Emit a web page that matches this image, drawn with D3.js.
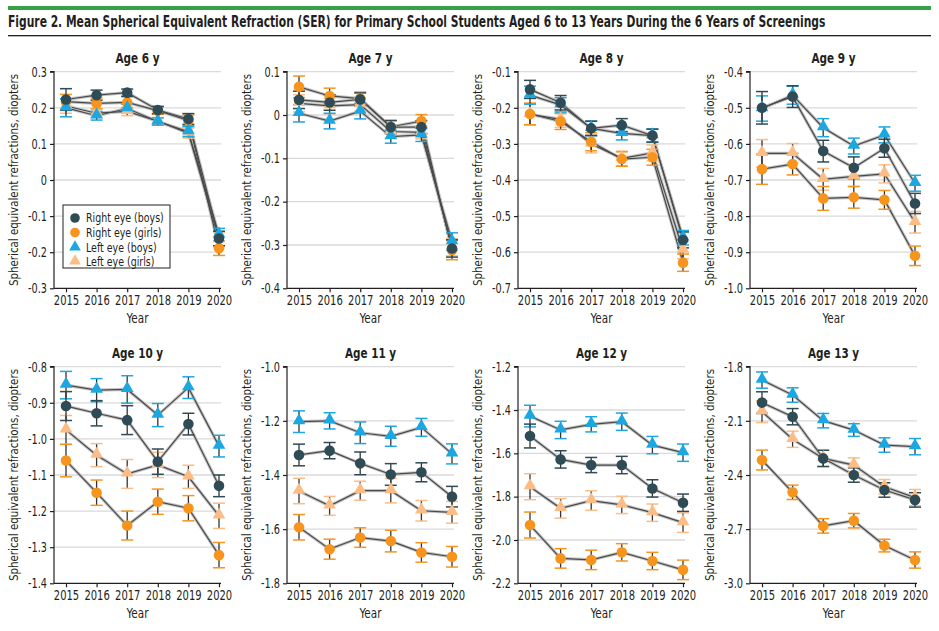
<!DOCTYPE html>
<html>
<head>
<meta charset="utf-8">
<script src="https://cdn.jsdelivr.net/npm/d3@7"></script>
<style>
  html, body { margin: 0; padding: 0; background: #fff; }
  svg { display: block; font-family: "Liberation Sans Narrow", "DejaVu Sans Condensed", "Arial Narrow", sans-serif; }
</style>
</head>
<body>
<svg id="chart" width="939" height="631"></svg>
<script>
// ---------------- DATA ----------------
const years = [2015, 2016, 2017, 2018, 2019, 2020];
const ages = [6, 7, 8, 9, 10, 11, 12, 13];
const seriesNames = ["Right eye (boys)", "Right eye (girls)", "Left eye (boys)", "Left eye (girls)"];
const yDomains = [[-0.3, 0.3], [-0.4, 0.1], [-0.7, -0.1], [-1.0, -0.4], [-1.4, -0.8], [-1.8, -1.0], [-2.2, -1.2], [-3.0, -1.8]];
const yTicks = [
  [0.3, 0.2, 0.1, 0, -0.1, -0.2, -0.3],
  [0.1, 0, -0.1, -0.2, -0.3, -0.4],
  [-0.1, -0.2, -0.3, -0.4, -0.5, -0.6, -0.7],
  [-0.4, -0.5, -0.6, -0.7, -0.8, -0.9, -1.0],
  [-0.8, -0.9, -1.0, -1.1, -1.2, -1.3, -1.4],
  [-1.0, -1.2, -1.4, -1.6, -1.8],
  [-1.2, -1.4, -1.6, -1.8, -2.0, -2.2],
  [-1.8, -2.1, -2.4, -2.7, -3.0]
];
const yTickLabels = [
  ["0.3", "0.2", "0.1", "0", "-0.1", "-0.2", "-0.3"],
  ["0.1", "0", "-0.1", "-0.2", "-0.3", "-0.4"],
  ["-0.1", "-0.2", "-0.3", "-0.4", "-0.5", "-0.6", "-0.7"],
  ["-0.4", "-0.5", "-0.6", "-0.7", "-0.8", "-0.9", "-1.0"],
  ["-0.8", "-0.9", "-1.0", "-1.1", "-1.2", "-1.3", "-1.4"],
  ["-1.0", "-1.2", "-1.4", "-1.6", "-1.8"],
  ["-1.2", "-1.4", "-1.6", "-1.8", "-2.0", "-2.2"],
  ["-1.8", "-2.1", "-2.4", "-2.7", "-3.0"]
];

// Means, one row per age (6..13), one value per year (2015..2020)
const rightBoys = [
  [0.223, 0.235, 0.242, 0.194, 0.169, -0.162],
  [0.035, 0.029, 0.036, -0.028, -0.028, -0.308],
  [-0.149, -0.186, -0.257, -0.248, -0.277, -0.566],
  [-0.500, -0.469, -0.620, -0.666, -0.612, -0.765],
  [-0.909, -0.929, -0.948, -1.063, -0.959, -1.130],
  [-1.326, -1.310, -1.357, -1.398, -1.390, -1.480],
  [-1.520, -1.628, -1.654, -1.654, -1.762, -1.828],
  [-1.999, -2.077, -2.308, -2.400, -2.483, -2.538]
];
const rightGirls = [
  [0.217, 0.212, 0.215, 0.192, 0.165, -0.189],
  [0.065, 0.044, 0.038, -0.027, -0.014, -0.312],
  [-0.217, -0.238, -0.294, -0.342, -0.337, -0.629],
  [-0.670, -0.656, -0.751, -0.748, -0.755, -0.910],
  [-1.060, -1.149, -1.240, -1.174, -1.192, -1.322],
  [-1.593, -1.674, -1.631, -1.644, -1.686, -1.702],
  [-1.931, -2.085, -2.092, -2.057, -2.097, -2.138],
  [-2.317, -2.496, -2.682, -2.653, -2.791, -2.871]
];
const leftBoys = [
  [0.200, 0.178, 0.198, 0.162, 0.134, -0.152],
  [0.004, -0.014, 0.009, -0.050, -0.046, -0.292],
  [-0.165, -0.192, -0.257, -0.271, -0.277, -0.560],
  [-0.502, -0.465, -0.555, -0.606, -0.575, -0.709],
  [-0.851, -0.865, -0.863, -0.934, -0.858, -1.020],
  [-1.203, -1.200, -1.244, -1.257, -1.224, -1.322],
  [-1.428, -1.492, -1.466, -1.454, -1.562, -1.597],
  [-1.874, -1.957, -2.099, -2.151, -2.234, -2.243]
];
const leftGirls = [
  [0.205, 0.185, 0.190, 0.163, 0.130, -0.165],
  [0.027, 0.021, 0.024, -0.038, -0.040, -0.305],
  [-0.218, -0.232, -0.300, -0.340, -0.325, -0.594],
  [-0.626, -0.626, -0.698, -0.690, -0.683, -0.817],
  [-0.975, -1.045, -1.097, -1.072, -1.105, -1.213],
  [-1.459, -1.514, -1.458, -1.458, -1.532, -1.538],
  [-1.754, -1.854, -1.818, -1.838, -1.874, -1.920],
  [-2.049, -2.202, -2.308, -2.345, -2.465, -2.525]
];
// 95% CI half-widths
const rightBoysErr = [
  [0.030, 0.014, 0.010, 0.010, 0.015, 0.020],
  [0.020, 0.018, 0.015, 0.015, 0.015, 0.020],
  [0.025, 0.020, 0.020, 0.018, 0.018, 0.022],
  [0.045, 0.030, 0.030, 0.030, 0.025, 0.028],
  [0.040, 0.035, 0.040, 0.035, 0.030, 0.030],
  [0.040, 0.030, 0.042, 0.040, 0.035, 0.038],
  [0.055, 0.040, 0.035, 0.040, 0.040, 0.040],
  [0.060, 0.045, 0.045, 0.040, 0.040, 0.040]
];
const rightGirlsErr = [
  [0.020, 0.015, 0.015, 0.010, 0.015, 0.020],
  [0.025, 0.018, 0.015, 0.015, 0.015, 0.022],
  [0.030, 0.022, 0.025, 0.020, 0.022, 0.024],
  [0.042, 0.030, 0.033, 0.030, 0.026, 0.027],
  [0.045, 0.035, 0.040, 0.035, 0.035, 0.035],
  [0.047, 0.037, 0.036, 0.040, 0.036, 0.038],
  [0.060, 0.045, 0.045, 0.040, 0.040, 0.045],
  [0.055, 0.040, 0.040, 0.040, 0.035, 0.045]
];
const leftBoysErr = [
  [0.025, 0.012, 0.012, 0.010, 0.014, 0.018],
  [0.020, 0.018, 0.018, 0.015, 0.015, 0.020],
  [0.025, 0.020, 0.020, 0.018, 0.018, 0.020],
  [0.035, 0.025, 0.025, 0.022, 0.022, 0.022],
  [0.038, 0.032, 0.038, 0.032, 0.030, 0.030],
  [0.040, 0.030, 0.040, 0.037, 0.033, 0.037],
  [0.050, 0.040, 0.035, 0.040, 0.040, 0.040],
  [0.045, 0.040, 0.040, 0.035, 0.040, 0.045]
];
const leftGirlsErr = [
  [0.020, 0.012, 0.012, 0.010, 0.014, 0.020],
  [0.020, 0.018, 0.015, 0.015, 0.015, 0.020],
  [0.030, 0.022, 0.025, 0.020, 0.022, 0.024],
  [0.038, 0.027, 0.030, 0.028, 0.025, 0.030],
  [0.040, 0.032, 0.040, 0.035, 0.032, 0.035],
  [0.047, 0.035, 0.035, 0.045, 0.038, 0.040],
  [0.060, 0.045, 0.045, 0.040, 0.040, 0.045],
  [0.060, 0.045, 0.045, 0.040, 0.040, 0.045]
];

// ---------------- STYLE / LAYOUT ----------------
const colors = ["#2e4b56", "#f7941d", "#1ba7e1", "#fbbd85"];
const shapes = ["circle", "circle", "triangle", "triangle"];
const means = [rightBoys, rightGirls, leftBoys, leftGirls];
const errs = [rightBoysErr, rightGirlsErr, leftBoysErr, leftGirlsErr];
const drawOrder = [3, 1, 2, 0];
const textColor = "#231f20";
const FONT = "Liberation Sans Narrow, DejaVu Sans Condensed, sans-serif";

// horizontally condense a text to a fraction of its natural width
function condense(sel, factor) {
  sel.each(function () {
    const w = this.getComputedTextLength();
    d3.select(this).attr("textLength", w * factor).attr("lengthAdjust", "spacingAndGlyphs");
  });
}

const svg = d3.select("#chart");

// Header
svg.append("rect").attr("x", 8).attr("y", 6).attr("width", 923).attr("height", 4).attr("fill", "#3aa047");
const titleText = svg.append("text").attr("x", 0).attr("y", 0)
  .attr("font-size", 15).attr("font-weight", "bold").attr("fill", textColor)
  .text("Figure 2. Mean Spherical Equivalent Refraction (SER) for Primary School Students Aged 6 to 13 Years During the 6 Years of Screenings");
{
  const w = titleText.node().getComputedTextLength();
  titleText.attr("transform", `translate(8,27) scale(${818 / w},1)`);
}
svg.append("rect").attr("x", 8).attr("y", 35).attr("width", 923).attr("height", 1.3).attr("fill", "#231f20");

const colAxis = [54, 287, 518, 750];
const rowTop = [71.7, 366.7];
const plotH = 216.6;

const tri = d3.symbol().type(d3.symbolTriangle).size(70);

ages.forEach((age, i) => {
  const col = i % 4, row = Math.floor(i / 4);
  const ax = colAxis[col];
  const top = rowTop[row], bottom = top + plotH;
  const x = d3.scalePoint().domain(years).range([ax + 12, ax + 165]);
  const y = d3.scaleLinear().domain(yDomains[i]).range([bottom, top]);
  const g = svg.append("g");
  const right = ax + 167;

  // grid
  g.selectAll(".grid").data(yTicks[i].filter(t => Math.abs(t - yDomains[i][0]) > 1e-9))
    .enter().append("line")
    .attr("x1", ax).attr("x2", right)
    .attr("y1", d => y(d)).attr("y2", d => y(d))
    .attr("stroke", "#dadada").attr("stroke-width", 1.3);

  // y axis
  const yAxis = d3.axisLeft(y).tickValues(yTicks[i]).tickSize(4).tickPadding(3)
    .tickFormat((d, k) => yTickLabels[i][k]);
  const ya = g.append("g").attr("transform", `translate(${ax},0)`).call(yAxis);
  ya.attr("font-family", FONT);
  ya.select(".domain").attr("stroke", "#231f20").attr("stroke-width", 1.2).attr("d", `M-4,${top}H0V${bottom}`);
  ya.selectAll(".tick line").attr("stroke", "#231f20").attr("stroke-width", 1.2);
  ya.selectAll(".tick text").attr("font-size", 13.5).attr("fill", textColor).call(condense, 0.8);

  // x axis
  const xAxis = d3.axisBottom(x).tickSize(4).tickPadding(3).tickFormat(d3.format("d"));
  const xa = g.append("g").attr("transform", `translate(0,${bottom})`).call(xAxis);
  xa.attr("font-family", FONT);
  xa.select(".domain").attr("stroke", "#231f20").attr("stroke-width", 1.2).attr("d", `M${ax},0H${right}`);
  xa.selectAll(".tick line").attr("stroke", "#231f20").attr("stroke-width", 1.2);
  xa.selectAll(".tick text").attr("font-size", 13.5).attr("fill", textColor).call(condense, 0.82);

  // titles
  const cx = (ax + right) / 2;
  g.append("text").attr("x", cx).attr("y", top - 9).attr("text-anchor", "middle")
    .attr("font-size", 14.5).attr("font-weight", "bold").attr("fill", textColor)
    .text(`Age ${age} y`).call(condense, 0.8);
  g.append("text").attr("x", cx).attr("y", bottom + 35).attr("text-anchor", "middle")
    .attr("font-size", 14.5).attr("fill", textColor).text("Year").call(condense, 0.8);
  g.append("text")
    .attr("transform", `translate(${ax - 36},${(top + bottom) / 2}) rotate(-90)`)
    .attr("text-anchor", "middle").attr("font-size", 12.5).attr("fill", textColor)
    .attr("textLength", 212).attr("lengthAdjust", "spacingAndGlyphs")
    .text("Spherical equivalent refractions, diopters");

  // lines
  const line = d3.line().x((d, k) => x(years[k])).y(d => y(d));
  drawOrder.forEach(s => {
    const vals = means[s][i];
    g.append("path").attr("d", line(vals)).attr("fill", "none")
      .attr("stroke", "#c4c4c4").attr("stroke-width", 3.2);
  });
  drawOrder.forEach(s => {
    const vals = means[s][i];
    g.append("path").attr("d", line(vals)).attr("fill", "none")
      .attr("stroke", "#4a4a4a").attr("stroke-width", 1.2);
  });

  // error bars
  drawOrder.forEach(s => {
    const vals = means[s][i], ev = errs[s][i];
    years.forEach((yr, k) => {
      const px = x(yr), y1 = y(vals[k] + ev[k]), y2 = y(vals[k] - ev[k]);
      g.append("line").attr("x1", px).attr("x2", px).attr("y1", y1).attr("y2", y2)
        .attr("stroke", "#333").attr("stroke-width", 1.3);
      [y1, y2].forEach(yy => g.append("line")
        .attr("x1", px - 6).attr("x2", px + 6).attr("y1", yy).attr("y2", yy)
        .attr("stroke", colors[s]).attr("stroke-width", 1.5));
    });
  });

  // markers
  drawOrder.forEach(s => {
    const vals = means[s][i];
    years.forEach((yr, k) => {
      if (shapes[s] === "circle") {
        g.append("circle").attr("cx", x(yr)).attr("cy", y(vals[k])).attr("r", 5.3).attr("fill", colors[s]);
      } else {
        g.append("path").attr("d", tri).attr("transform", `translate(${x(yr)},${y(vals[k]) - 1})`).attr("fill", colors[s]);
      }
    });
  });

  // legend (first panel)
  if (i === 0) {
    const lg = g.append("g");
    lg.append("rect").attr("x", 63).attr("y", 205).attr("width", 107).attr("height", 63)
      .attr("fill", "#fff").attr("stroke", "#231f20").attr("stroke-width", 1);
    const rowsY = [218, 232.5, 247.5, 261.5];
    seriesNames.forEach((name, s) => {
      if (shapes[s] === "circle") {
        lg.append("circle").attr("cx", 75).attr("cy", rowsY[s]).attr("r", 4.8).attr("fill", colors[s]);
      } else {
        lg.append("path").attr("d", d3.symbol().type(d3.symbolTriangle).size(60))
          .attr("transform", `translate(75,${rowsY[s] - 0.5})`).attr("fill", colors[s]);
      }
      lg.append("text").attr("x", 86).attr("y", rowsY[s] + 4)
        .attr("font-size", 12.5).attr("fill", textColor).text(name).call(condense, 0.84);
    });
  }
});
</script>
</body>
</html>
